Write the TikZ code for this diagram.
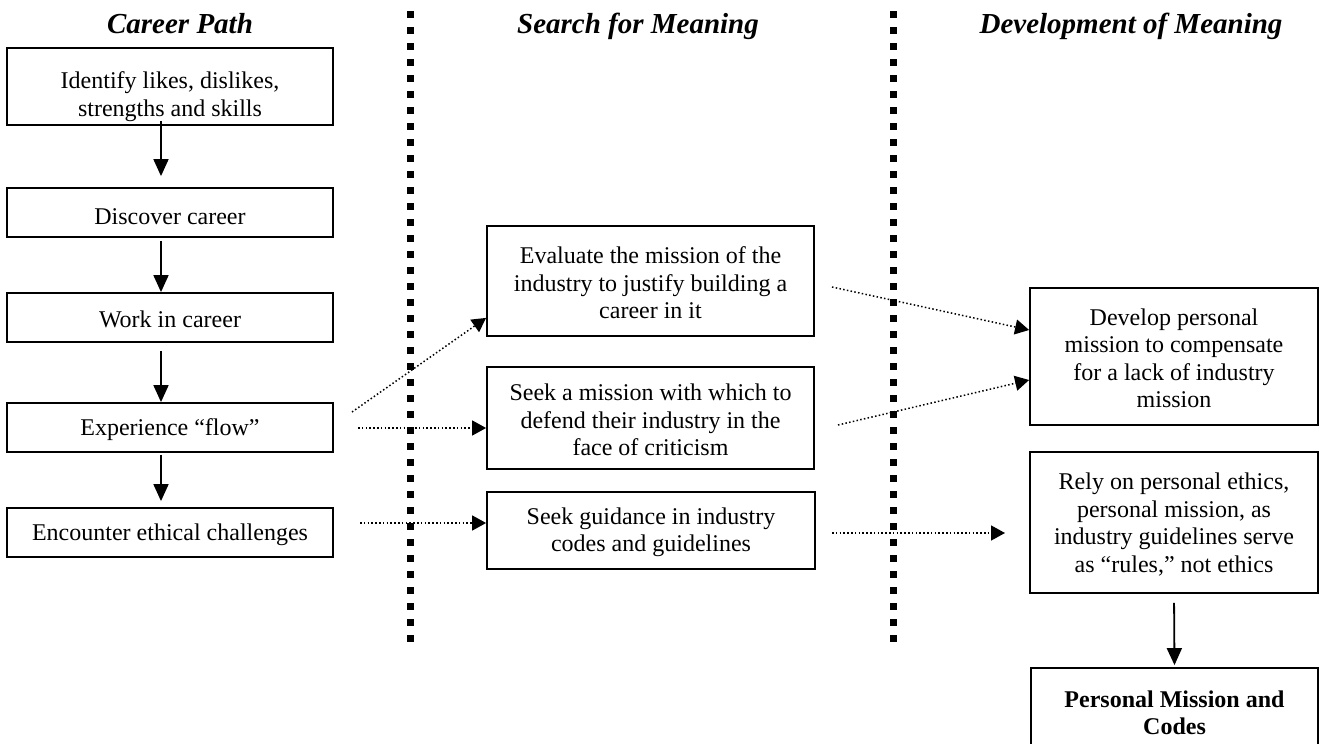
\documentclass[tikz,border=0pt]{standalone}
\usepackage{fontspec}
\setmainfont{Liberation Serif}
\usetikzlibrary{arrows.meta,calc}
\begin{document}
\begin{tikzpicture}[x=1pt,y=-1pt,
  box/.style={draw, line width=1.8pt, inner sep=0pt, fill=white},
  txt/.style={align=center, font=\fontsize{24}{27.5}\selectfont, inner sep=0pt, yshift=-2pt},
  btxt/.style={txt, font=\fontsize{24}{27.5}\selectfont\bfseries},
  head/.style={font=\fontsize{29}{32}\selectfont\bfseries\itshape, anchor=base, inner sep=0pt},
  sepline/.style={line width=7pt, dash pattern=on 7pt off 9pt},
  flow/.style={line width=1.8pt, -{Triangle[length=17pt,width=15pt]}},
  dots/.style={line width=1.5pt, dash pattern=on 1.5pt off 2.3pt, -{Triangle[length=14pt,width=15pt]}}
]
\useasboundingbox (0,0) rectangle (1325,744);
\clip (0,0) rectangle (1325,744);

% column separators
\coordinate (sepAt) at (410.5,11);
\coordinate (sepAb) at (410.5,648);
\coordinate (sepBt) at (893,11);
\coordinate (sepBb) at (893,648);
\draw[sepline] (sepAt) -- (sepAb);
\draw[sepline] (sepBt) -- (sepBb);

% headings
\node[head] (h1) at (180,33) {Career Path};
\node[head] (h2) at (638,33) {Search for Meaning};
\node[head] (h3) at (1131,33) {Development of Meaning};

% career path column
\node[box, minimum width=326pt, minimum height=77pt,
  label={[txt,yshift=-8pt]center:{Identify likes, dislikes,\\strengths and skills}}] (b1) at (170,86.5) {};
\node[box, minimum width=326pt, minimum height=49pt,
  label={[txt,yshift=-2pt]center:{Discover career}}] (b2) at (170,212.5) {};
\node[box, minimum width=326pt, minimum height=49pt,
  label={[txt]center:{Work in career}}] (b3) at (170,317.5) {};
\node[box, minimum width=326pt, minimum height=49pt,
  label={[txt]center:{Experience “flow”}}] (b4) at (170,427.5) {};
\node[box, minimum width=326pt, minimum height=49pt,
  label={[txt]center:{Encounter ethical challenges}}] (b5) at (170,532.5) {};

% search for meaning column
\node[box, minimum width=327pt, minimum height=110pt,
  label={[txt]center:{Evaluate the mission of the\\industry to justify building a\\career in it}}] (m1) at (650.5,281) {};
\node[box, minimum width=327pt, minimum height=102pt,
  label={[txt]center:{Seek a mission with which to\\defend their industry in the\\face of criticism}}] (m2) at (650.5,418) {};
\node[box, minimum width=328pt, minimum height=77pt,
  label={[txt]center:{Seek guidance in industry\\codes and guidelines}}] (m3) at (651,530.5) {};

% development of meaning column
\node[box, minimum width=288pt, minimum height=137pt,
  label={[txt]center:{Develop personal\\mission to compensate\\for a lack of industry\\mission}}] (r1) at (1174,356.5) {};
\node[box, minimum width=288pt, minimum height=141pt,
  label={[txt]center:{Rely on personal ethics,\\personal mission, as\\industry guidelines serve\\as “rules,” not ethics}}] (r2) at (1174,522.5) {};
\node[box, minimum width=287pt, minimum height=86pt,
  label={[btxt]center:{Personal Mission and\\Codes}}] (r3) at (1174.5,711) {};

% solid arrows
\draw[flow, shorten <=-5pt, shorten >=11pt] ([xshift=-9pt]b1.south) -- ([xshift=-9pt]b2.north);
\draw[flow, shorten <=3pt] ([xshift=-9pt]b2.south) -- ([xshift=-9pt]b3.north);
\draw[flow, shorten <=8pt] ([xshift=-9pt]b3.south) -- ([xshift=-9pt]b4.north);
\draw[flow, shorten <=2pt, shorten >=6pt] ([xshift=-9pt]b4.south) -- ([xshift=-9pt]b5.north);
\draw[flow, shorten <=9pt, shorten >=2pt] (r2.south) -- (r3.north);

% dotted arrows
\coordinate (s1) at (352,412);
\coordinate (s2) at (358,428);
\coordinate (s3) at (360,523);
\coordinate (s4) at (832,287);
\coordinate (s5) at (838,425);
\coordinate (s6) at (832,533);
\coordinate (e6) at (1005,533);
\draw[dots] (s1) -- ([yshift=19pt]m1.south west);
\draw[dots] (s2) -- ([yshift=-10pt]m2.west);
\draw[dots] (s3) -- ([yshift=7.5pt]m3.west);
\draw[dots] (s4) -- ([yshift=26.5pt]r1.west);
\draw[dots] (s5) -- ([yshift=-23.5pt]r1.west);
\draw[dots] (s6) -- (e6);
\end{tikzpicture}
\end{document}
